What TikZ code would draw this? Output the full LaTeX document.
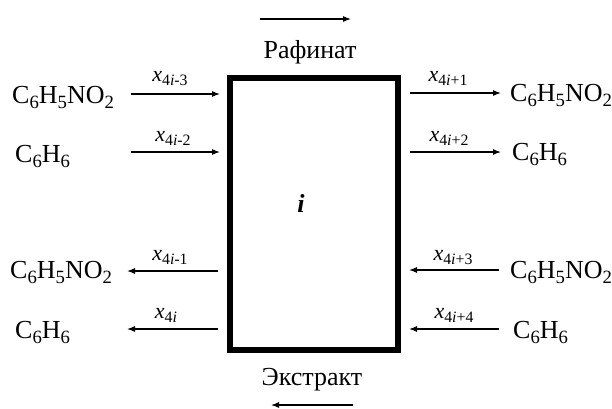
\documentclass[tikz,border=0pt]{standalone}
\usepackage{fontspec}
\usepackage{graphicx}
\setmainfont{Liberation Serif}
\usetikzlibrary{arrows.meta}
\newcommand{\chsb}[1]{\raisebox{-0.22em}{\scalebox{0.72}{#1}}}
\newcommand{\nb}{C\chsb{6}H\chsb{5}NO\chsb{2}}
\newcommand{\bz}{C\chsb{6}H\chsb{6}}
\newcommand{\xl}[1]{\textit{x}\chsb{4\textit{i}#1}}
\begin{document}
\begin{tikzpicture}[x=1pt,y=-1pt,
  chem/.style={inner sep=0pt,font=\fontsize{26}{30}\selectfont},
  lab/.style={inner sep=0pt,anchor=base,font=\fontsize{22}{26}\selectfont},
  flow/.style={line width=1.1pt,-{Latex[length=8pt,width=6pt]}},
  unit/.style={line width=6pt,draw=black}]
\useasboundingbox (0,0) rectangle (612,408);
% unit box
\draw[unit] (230,78) rectangle (398,350);
\node[inner sep=0pt,font=\fontsize{26}{30}\selectfont\bfseries\itshape] (i) at (301,203) {i};
% top / bottom
\coordinate (ta) at (260,19); \coordinate (tb) at (351,19);
\draw[flow] (ta) -- (tb);
\node[chem,anchor=base] (raf) at (310,58) {Рафинат};
\node[chem,anchor=base] (ext) at (312,385) {Экстракт};
\coordinate (ba) at (353,405); \coordinate (bb) at (271,405);
\draw[flow] (ba) -- (bb);
% left inputs
\node[chem,anchor=base west] (l1) at (12,103) {\nb};
\node[chem,anchor=base west] (l2) at (15,162) {\bz};
\coordinate (l1a) at (131,94); \coordinate (l1b) at (220,94);
\coordinate (l2a) at (131,152); \coordinate (l2b) at (220,152);
\draw[flow] (l1a) -- (l1b);
\draw[flow] (l2a) -- (l2b);
\node[lab] (x1) at (170,81) {\xl{-3}};
\node[lab] (x2) at (173,141) {\xl{-2}};
% right outputs
\node[chem,anchor=base west] (r1) at (510,101) {\nb};
\node[chem,anchor=base west] (r2) at (512,160) {\bz};
\coordinate (r1a) at (410,93); \coordinate (r1b) at (501,93);
\coordinate (r2a) at (410,152); \coordinate (r2b) at (501,152);
\draw[flow] (r1a) -- (r1b);
\draw[flow] (r2a) -- (r2b);
\node[lab] (x5) at (448,81) {\xl{+1}};
\node[lab] (x6) at (449,141) {\xl{+2}};
% left outputs
\node[chem,anchor=base west] (l3) at (10,278) {\nb};
\node[chem,anchor=base west] (l4) at (15,338) {\bz};
\coordinate (l3a) at (218,271); \coordinate (l3b) at (127,271);
\coordinate (l4a) at (218,329); \coordinate (l4b) at (127,329);
\draw[flow] (l3a) -- (l3b);
\draw[flow] (l4a) -- (l4b);
\node[lab] (x3) at (170,260) {\xl{-1}};
\node[lab] (x4) at (166,318) {\xl{}};
% right inputs
\node[chem,anchor=base west] (r3) at (510,278) {\nb};
\node[chem,anchor=base west] (r4) at (513,338) {\bz};
\coordinate (r3a) at (499,270); \coordinate (r3b) at (409,270);
\coordinate (r4a) at (499,329); \coordinate (r4b) at (409,329);
\draw[flow] (r3a) -- (r3b);
\draw[flow] (r4a) -- (r4b);
\node[lab] (x7) at (453,260) {\xl{+3}};
\node[lab] (x8) at (454,318) {\xl{+4}};
\end{tikzpicture}
\end{document}
